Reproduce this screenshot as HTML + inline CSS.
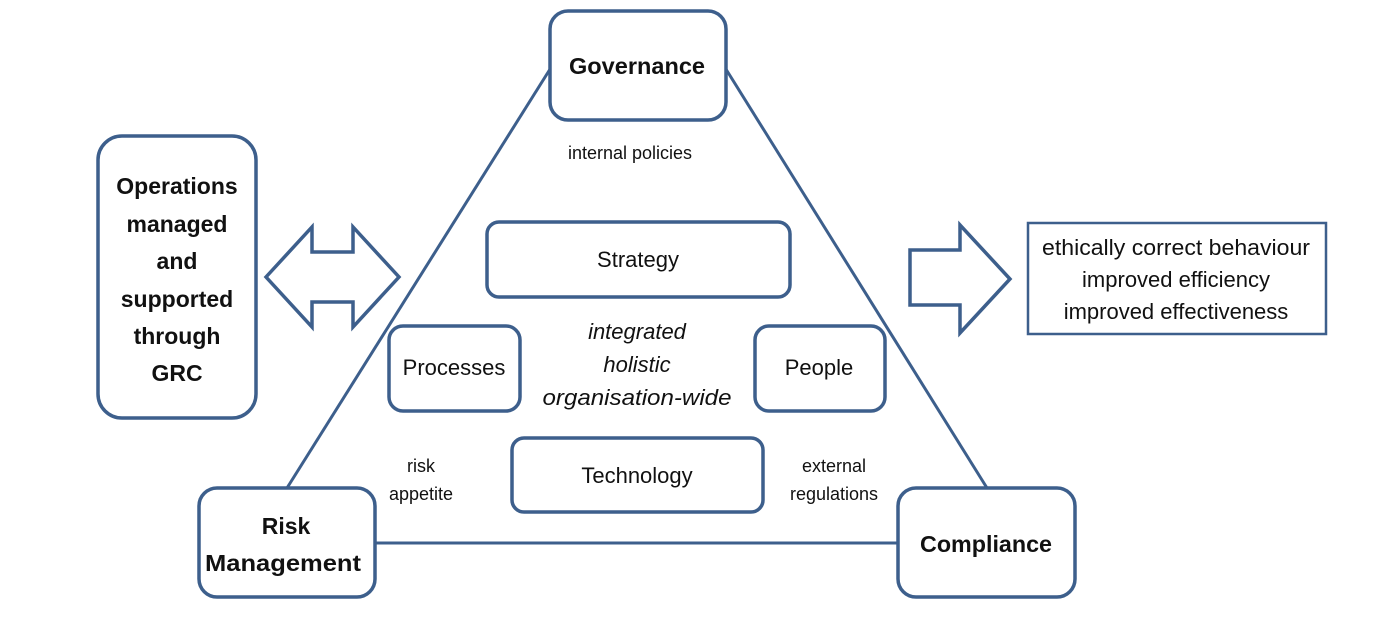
<!DOCTYPE html>
<html><head><style>
body{margin:0;background:#fff;}
svg text{font-family:"Liberation Sans",sans-serif;}
</style></head><body>
<svg width="1378" height="612" viewBox="0 0 1378 612" xmlns="http://www.w3.org/2000/svg">
<g stroke="#3d5f8c" fill="none">
<line x1="552" y1="66" x2="287" y2="488" stroke-width="3"/>
<line x1="724" y1="66" x2="987" y2="488" stroke-width="3"/>
<line x1="375" y1="543" x2="899" y2="543" stroke-width="3"/>
<g stroke-width="3.5" fill="#fff">
<rect x="550" y="11" width="176" height="109" rx="18"/>
<rect x="98" y="136" width="158" height="282" rx="24"/>
<rect x="487" y="222" width="303" height="75" rx="12"/>
<rect x="389" y="326" width="131" height="85" rx="14"/>
<rect x="755" y="326" width="130" height="85" rx="14"/>
<rect x="512" y="438" width="251" height="74" rx="12"/>
<rect x="199" y="488" width="176" height="109" rx="18"/>
<rect x="898" y="488" width="177" height="109" rx="18"/>
</g>
<rect x="1028" y="223" width="298" height="111" stroke-width="2.5"/>
<polygon points="266,277 312,227 312,252 353,252 353,227 399,277 353,327 353,302 312,302 312,327" stroke-width="3.5" stroke-linejoin="miter"/>
<polygon points="910,250 960,250 960,225 1010,279 960,333 960,305 910,305" stroke-width="3.5"/>
</g>
<g fill="#111" text-anchor="middle">
<g font-weight="bold" font-size="23">
<text x="637" y="74" textLength="136" lengthAdjust="spacingAndGlyphs">Governance</text>
<text x="177" y="194">Operations</text>
<text x="177" y="232">managed</text>
<text x="177" y="269">and</text>
<text x="177" y="307">supported</text>
<text x="177" y="344">through</text>
<text x="177" y="381">GRC</text>
<text x="286" y="534">Risk</text>
<text x="283" y="571" textLength="156" lengthAdjust="spacingAndGlyphs">Management</text>
<text x="986" y="552" textLength="132" lengthAdjust="spacingAndGlyphs">Compliance</text>
</g>
<g font-size="22">
<text x="638" y="267">Strategy</text>
<text x="454" y="375">Processes</text>
<text x="819" y="375">People</text>
<text x="637" y="483">Technology</text>
<text x="1176" y="255" textLength="268" lengthAdjust="spacingAndGlyphs">ethically correct behaviour</text>
<text x="1176" y="287">improved efficiency</text>
<text x="1176" y="319">improved effectiveness</text>
</g>
<g font-size="22" font-style="italic">
<text x="637" y="339">integrated</text>
<text x="637" y="372">holistic</text>
<text x="637" y="405" textLength="189" lengthAdjust="spacingAndGlyphs">organisation-wide</text>
</g>
<g font-size="18">
<text x="630" y="159">internal policies</text>
<text x="421" y="472">risk</text>
<text x="421" y="500">appetite</text>
<text x="834" y="472">external</text>
<text x="834" y="500">regulations</text>
</g>
</g>
</svg>
</body></html>
